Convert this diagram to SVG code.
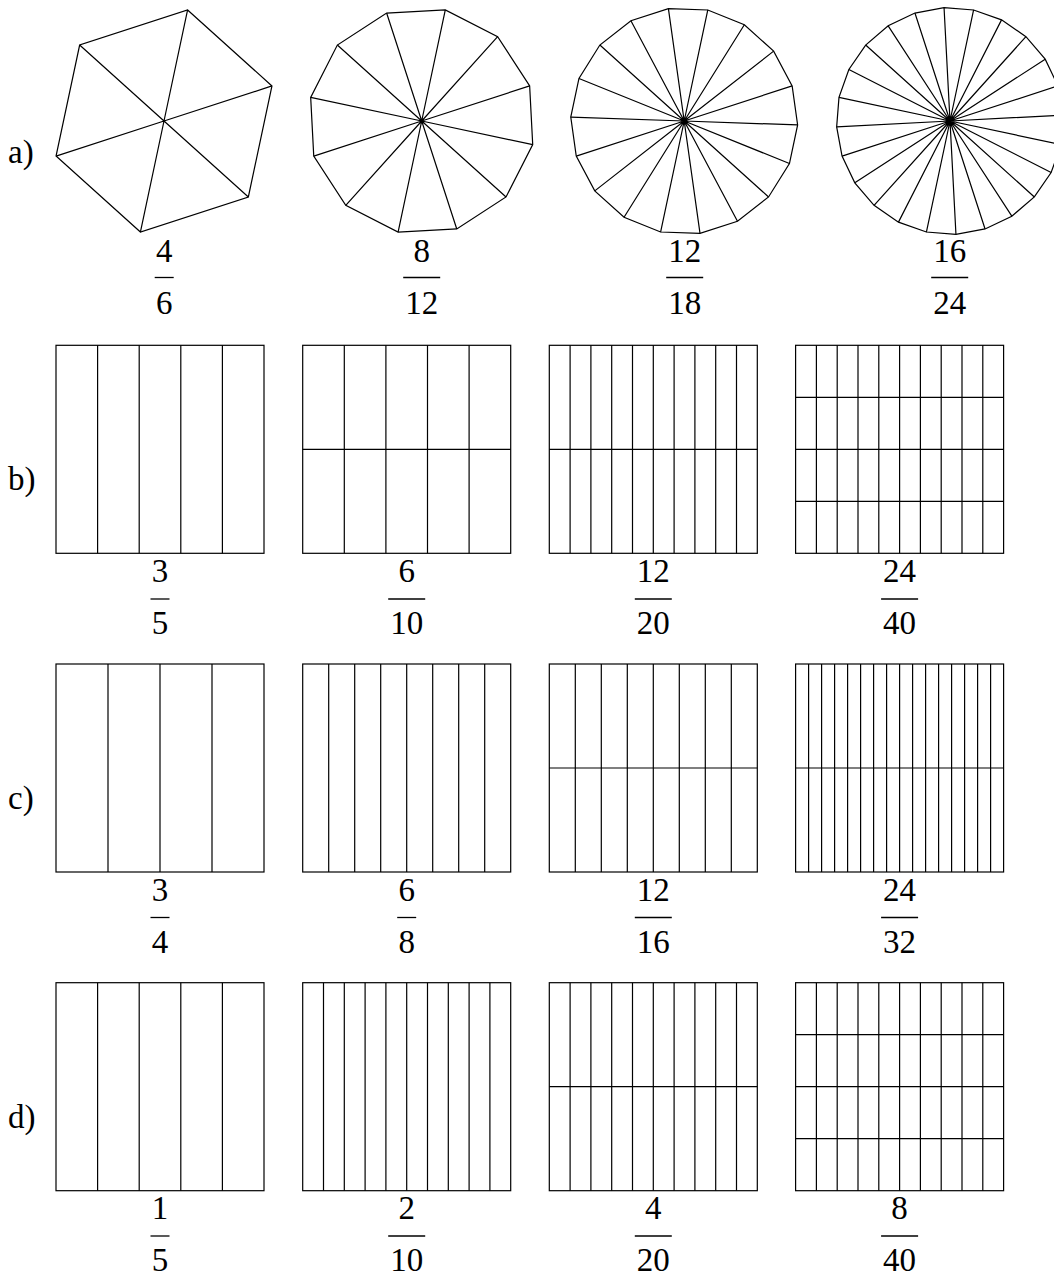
<svg xmlns="http://www.w3.org/2000/svg" width="1054" height="1277" viewBox="0 0 1054 1277">
<style>
.s{fill:none;stroke:#000;stroke-width:1.2;stroke-linejoin:miter}
.bar{stroke:#000;stroke-width:1.3}
.t{font-family:"Liberation Serif","Times New Roman",serif;font-size:33px;fill:#000;text-anchor:middle}
.l{font-family:"Liberation Serif","Times New Roman",serif;font-size:33px;fill:#000}
</style>
<rect width="1054" height="1277" fill="#fff"/>
<g id="labels">
<text class="l" x="8" y="162.5">a)</text>
<text class="l" x="8" y="490">b)</text>
<text class="l" x="8" y="809">c)</text>
<text class="l" x="8" y="1128">d)</text>
</g>
<g id="a1">
<polygon class="s" points="271.95,85.93 187.6,9.98 79.65,45.05 56.05,156.07 140.4,232.02 248.35,196.95"/>
<path class="s" d="M164 121L271.95 85.93M164 121L187.6 9.98M164 121L79.65 45.05M164 121L56.05 156.07M164 121L140.4 232.02M164 121L248.35 196.95"/>
<text class="t" x="164.2" y="262">4</text><line class="bar" x1="154.7" y1="277.5" x2="173.7" y2="277.5"/><text class="t" x="164.2" y="314">6</text>
</g>
<g id="a2">
<polygon class="s" points="529.65,85.93 497.65,36.65 445.3,9.98 386.63,13.05 337.35,45.05 310.68,97.4 313.75,156.07 345.75,205.35 398.1,232.02 456.77,228.95 506.05,196.95 532.72,144.6"/>
<path class="s" d="M421.7 121L529.65 85.93M421.7 121L497.65 36.65M421.7 121L445.3 9.98M421.7 121L386.63 13.05M421.7 121L337.35 45.05M421.7 121L310.68 97.4M421.7 121L313.75 156.07M421.7 121L345.75 205.35M421.7 121L398.1 232.02M421.7 121L456.77 228.95M421.7 121L506.05 196.95M421.7 121L532.72 144.6"/>
<text class="t" x="421.7" y="262">8</text><line class="bar" x1="403.2" y1="277.5" x2="440.2" y2="277.5"/><text class="t" x="421.7" y="314">12</text>
</g>
<g id="a3">
<polygon class="s" points="792.15,85.93 773.64,51.12 744.35,24.75 707.8,9.98 668.4,8.6 630.92,20.79 599.85,45.05 578.96,78.48 570.77,117.04 576.25,156.07 594.76,190.88 624.05,217.25 660.6,232.02 700,233.4 737.48,221.21 768.55,196.95 789.44,163.52 797.63,124.96"/>
<path class="s" d="M684.2 121L792.15 85.93M684.2 121L773.64 51.12M684.2 121L744.35 24.75M684.2 121L707.8 9.98M684.2 121L668.4 8.6M684.2 121L630.92 20.79M684.2 121L599.85 45.05M684.2 121L578.96 78.48M684.2 121L570.77 117.04M684.2 121L576.25 156.07M684.2 121L594.76 190.88M684.2 121L624.05 217.25M684.2 121L660.6 232.02M684.2 121L700 233.4M684.2 121L737.48 221.21M684.2 121L768.55 196.95M684.2 121L789.44 163.52M684.2 121L797.63 124.96"/>
<text class="t" x="684.7" y="262">12</text><line class="bar" x1="666.2" y1="277.5" x2="703.2" y2="277.5"/><text class="t" x="684.7" y="314">18</text>
</g>
<g id="a4">
<polygon class="s" points="1063.34,115.06 1057.95,85.93 1045.19,59.18 1025.95,36.65 1001.53,19.87 973.6,9.98 944.06,7.66 914.93,13.05 888.18,25.81 865.65,45.05 848.87,69.47 838.98,97.4 836.66,126.94 842.05,156.07 854.81,182.82 874.05,205.35 898.47,222.13 926.4,232.02 955.94,234.34 985.07,228.95 1011.82,216.19 1034.35,196.95 1051.13,172.53 1061.02,144.6"/>
<path class="s" d="M950 121L1063.34 115.06M950 121L1057.95 85.93M950 121L1045.19 59.18M950 121L1025.95 36.65M950 121L1001.53 19.87M950 121L973.6 9.98M950 121L944.06 7.66M950 121L914.93 13.05M950 121L888.18 25.81M950 121L865.65 45.05M950 121L848.87 69.47M950 121L838.98 97.4M950 121L836.66 126.94M950 121L842.05 156.07M950 121L854.81 182.82M950 121L874.05 205.35M950 121L898.47 222.13M950 121L926.4 232.02M950 121L955.94 234.34M950 121L985.07 228.95M950 121L1011.82 216.19M950 121L1034.35 196.95M950 121L1051.13 172.53M950 121L1061.02 144.6"/>
<text class="t" x="949.7" y="262">16</text><line class="bar" x1="931.2" y1="277.5" x2="968.2" y2="277.5"/><text class="t" x="949.7" y="314">24</text>
</g>
<g id="b1">
<rect class="s" x="56" y="345.3" width="208" height="208"/>
<path class="s" d="M97.6 345.3v208M139.2 345.3v208M180.8 345.3v208M222.4 345.3v208"/>
<text class="t" x="160" y="582">3</text><line class="bar" x1="150.5" y1="599" x2="169.5" y2="599"/><text class="t" x="160" y="634">5</text>
</g>
<g id="b2">
<rect class="s" x="302.7" y="345.3" width="208" height="208"/>
<path class="s" d="M344.3 345.3v208M385.9 345.3v208M427.5 345.3v208M469.1 345.3v208M302.7 449.3h208"/>
<text class="t" x="406.7" y="582">6</text><line class="bar" x1="388.2" y1="599" x2="425.2" y2="599"/><text class="t" x="406.7" y="634">10</text>
</g>
<g id="b3">
<rect class="s" x="549.3" y="345.3" width="208" height="208"/>
<path class="s" d="M570.1 345.3v208M590.9 345.3v208M611.7 345.3v208M632.5 345.3v208M653.3 345.3v208M674.1 345.3v208M694.9 345.3v208M715.7 345.3v208M736.5 345.3v208M549.3 449.3h208"/>
<text class="t" x="653.3" y="582">12</text><line class="bar" x1="634.8" y1="599" x2="671.8" y2="599"/><text class="t" x="653.3" y="634">20</text>
</g>
<g id="b4">
<rect class="s" x="795.6" y="345.3" width="208" height="208"/>
<path class="s" d="M816.4 345.3v208M837.2 345.3v208M858 345.3v208M878.8 345.3v208M899.6 345.3v208M920.4 345.3v208M941.2 345.3v208M962 345.3v208M982.8 345.3v208M795.6 397.3h208M795.6 449.3h208M795.6 501.3h208"/>
<text class="t" x="899.6" y="582">24</text><line class="bar" x1="881.1" y1="599" x2="918.1" y2="599"/><text class="t" x="899.6" y="634">40</text>
</g>
<g id="c1">
<rect class="s" x="56" y="664" width="208" height="208"/>
<path class="s" d="M108 664v208M160 664v208M212 664v208"/>
<text class="t" x="160" y="900.5">3</text><line class="bar" x1="150.5" y1="917.5" x2="169.5" y2="917.5"/><text class="t" x="160" y="952.5">4</text>
</g>
<g id="c2">
<rect class="s" x="302.7" y="664" width="208" height="208"/>
<path class="s" d="M328.7 664v208M354.7 664v208M380.7 664v208M406.7 664v208M432.7 664v208M458.7 664v208M484.7 664v208"/>
<text class="t" x="406.7" y="900.5">6</text><line class="bar" x1="397.2" y1="917.5" x2="416.2" y2="917.5"/><text class="t" x="406.7" y="952.5">8</text>
</g>
<g id="c3">
<rect class="s" x="549.3" y="664" width="208" height="208"/>
<path class="s" d="M575.3 664v208M601.3 664v208M627.3 664v208M653.3 664v208M679.3 664v208M705.3 664v208M731.3 664v208M549.3 768h208"/>
<text class="t" x="653.3" y="900.5">12</text><line class="bar" x1="634.8" y1="917.5" x2="671.8" y2="917.5"/><text class="t" x="653.3" y="952.5">16</text>
</g>
<g id="c4">
<rect class="s" x="795.6" y="664" width="208" height="208"/>
<path class="s" d="M808.6 664v208M821.6 664v208M834.6 664v208M847.6 664v208M860.6 664v208M873.6 664v208M886.6 664v208M899.6 664v208M912.6 664v208M925.6 664v208M938.6 664v208M951.6 664v208M964.6 664v208M977.6 664v208M990.6 664v208M795.6 768h208"/>
<text class="t" x="899.6" y="900.5">24</text><line class="bar" x1="881.1" y1="917.5" x2="918.1" y2="917.5"/><text class="t" x="899.6" y="952.5">32</text>
</g>
<g id="d1">
<rect class="s" x="56" y="982.7" width="208" height="208"/>
<path class="s" d="M97.6 982.7v208M139.2 982.7v208M180.8 982.7v208M222.4 982.7v208"/>
<text class="t" x="160" y="1219">1</text><line class="bar" x1="150.5" y1="1236" x2="169.5" y2="1236"/><text class="t" x="160" y="1271">5</text>
</g>
<g id="d2">
<rect class="s" x="302.7" y="982.7" width="208" height="208"/>
<path class="s" d="M323.5 982.7v208M344.3 982.7v208M365.1 982.7v208M385.9 982.7v208M406.7 982.7v208M427.5 982.7v208M448.3 982.7v208M469.1 982.7v208M489.9 982.7v208"/>
<text class="t" x="406.7" y="1219">2</text><line class="bar" x1="388.2" y1="1236" x2="425.2" y2="1236"/><text class="t" x="406.7" y="1271">10</text>
</g>
<g id="d3">
<rect class="s" x="549.3" y="982.7" width="208" height="208"/>
<path class="s" d="M570.1 982.7v208M590.9 982.7v208M611.7 982.7v208M632.5 982.7v208M653.3 982.7v208M674.1 982.7v208M694.9 982.7v208M715.7 982.7v208M736.5 982.7v208M549.3 1086.7h208"/>
<text class="t" x="653.3" y="1219">4</text><line class="bar" x1="634.8" y1="1236" x2="671.8" y2="1236"/><text class="t" x="653.3" y="1271">20</text>
</g>
<g id="d4">
<rect class="s" x="795.6" y="982.7" width="208" height="208"/>
<path class="s" d="M816.4 982.7v208M837.2 982.7v208M858 982.7v208M878.8 982.7v208M899.6 982.7v208M920.4 982.7v208M941.2 982.7v208M962 982.7v208M982.8 982.7v208M795.6 1034.7h208M795.6 1086.7h208M795.6 1138.7h208"/>
<text class="t" x="899.6" y="1219">8</text><line class="bar" x1="881.1" y1="1236" x2="918.1" y2="1236"/><text class="t" x="899.6" y="1271">40</text>
</g>
</svg>
